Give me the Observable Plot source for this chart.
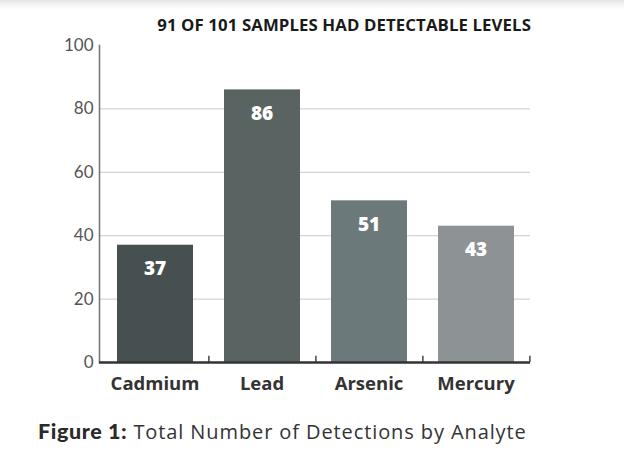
<!DOCTYPE html>
<html>
<head>
<meta charset="utf-8">
<script src="https://cdn.jsdelivr.net/npm/d3@7"></script>
<script src="https://cdn.jsdelivr.net/npm/@observablehq/plot@0.6"></script>
<style>
  html, body { margin: 0; padding: 0; width: 624px; height: 475px; overflow: hidden; font-family: Lato, "Open Sans", sans-serif; }
  body { background: linear-gradient(to bottom, #e4e4e4 0px, #f6f6f6 5px, #ffffff 10px, #ffffff 100%); }
  #title { padding-top: 15px; height: 19px; line-height: 20px; font-family: "Open Sans", sans-serif; font-size: 16.8px; font-weight: 700; color: #1a1a1a; text-align: right; padding-right: 93px; letter-spacing: 0.1px; white-space: nowrap; }
  #caption { margin-top: 19px; padding-left: 38px; font-family: "Open Sans", sans-serif; font-size: 20px; line-height: 24px; color: #333; white-space: nowrap; letter-spacing: 0.9px; }
  #caption b { font-family: Lato, sans-serif; font-weight: 900; color: #2a2a2a; font-size: 21.5px; letter-spacing: 0.6px; }
  svg { display: block; }
</style>
</head>
<body>
<div id="title">91 OF 101 SAMPLES HAD DETECTABLE LEVELS</div>
<div id="chart"></div>
<div id="caption"><b>Figure 1:</b> Total Number of Detections by Analyte</div>
<script>
const analytes = ["Cadmium", "Lead", "Arsenic", "Mercury"];
const detections = [37, 86, 51, 43];
const barColors = ["#465050", "#596462", "#6c797b", "#8d9295"];
const yTicks = [0, 20, 40, 60, 80, 100];
const gridValues = [20, 40, 60, 80];

const data = analytes.map((a, i) => ({analyte: a, value: detections[i], color: barColors[i]}));

const width = 624, marginLeft = 99, marginRight = 94;
const bandwidth = (width - marginLeft - marginRight) / analytes.length;

const chart = Plot.plot({
  width,
  height: 366,
  marginTop: 11,
  marginBottom: 38,
  marginLeft,
  marginRight,
  style: {fontFamily: "Lato, 'Open Sans', sans-serif", background: "transparent"},
  x: {domain: analytes, padding: 0},
  y: {domain: [0, 100]},
  marks: [
    Plot.ruleY(gridValues, {stroke: "#d4d4d4", strokeWidth: 1.2}),
    Plot.barY(data, {x: "analyte", y: "value", fill: "color", insetLeft: 16, insetRight: 15}),
    Plot.text(data, {x: "analyte", y: "value", text: d => String(d.value), dy: 24, fill: "#fff", fontSize: 19, fontWeight: 800, fontFamily: "'Open Sans', sans-serif"}),
    Plot.frame({anchor: "left", stroke: "#777", strokeWidth: 1.6}),
    Plot.ruleX(analytes, {x: d => d, dx: bandwidth / 2, y1: 0, y2: 2, stroke: "#444", strokeWidth: 1.5}),
    Plot.ruleY([0], {stroke: "#333", strokeWidth: 2.5}),
    Plot.axisY({ticks: yTicks, tickSize: 0, tickPadding: 6, fontSize: 17, fill: "#555", label: null}),
    Plot.axisX({tickSize: 0, tickPadding: 14, fontSize: 18.5, fontWeight: 700, fill: "#333", label: null, fontFamily: "'Open Sans', sans-serif"})
  ]
});
document.getElementById("chart").appendChild(chart);
</script>
</body>
</html>
